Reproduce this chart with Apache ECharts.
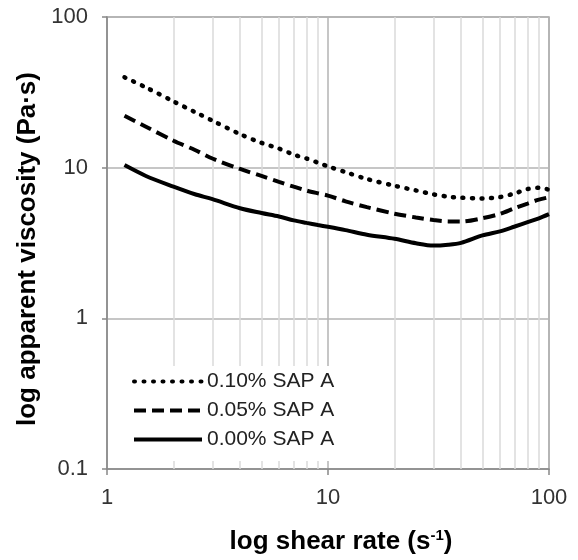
<!DOCTYPE html>
<html>
<head>
<meta charset="utf-8">
<script src="https://cdn.jsdelivr.net/npm/echarts@6/dist/echarts.min.js"></script>
<style>
html,body{margin:0;padding:0;background:#fff;}
#chart{width:578px;height:560px;}
</style>
</head>
<body>
<div id="chart"></div>
<script>
const shearRate = [1.2, 1.5, 2, 2.5, 3, 4, 5, 6, 7, 8, 9, 10, 12, 15, 20, 25, 30, 35, 40, 50, 60, 70, 80, 90, 100];
const sap010 = [39.8, 34.1, 27.5, 23.4, 20.5, 16.7, 14.6, 13.4, 12.2, 11.5, 10.8, 10.2, 9.34, 8.41, 7.58, 7.06, 6.65, 6.42, 6.32, 6.25, 6.38, 6.75, 7.21, 7.35, 7.14];
const sap005 = [22.1, 18.7, 15.1, 13.1, 11.5, 9.8, 8.81, 8.04, 7.48, 7.05, 6.76, 6.53, 5.98, 5.47, 4.95, 4.67, 4.49, 4.40, 4.39, 4.62, 4.93, 5.39, 5.78, 6.14, 6.36];
const sap000 = [10.4, 8.81, 7.48, 6.66, 6.18, 5.38, 5.0, 4.74, 4.47, 4.30, 4.16, 4.05, 3.85, 3.59, 3.37, 3.15, 3.04, 3.08, 3.17, 3.55, 3.78, 4.07, 4.35, 4.61, 4.91];
const seriesNames = ['0.10% SAP A', '0.05% SAP A', '0.00% SAP A'];
const minorGridX = [2, 3, 4, 5, 6, 7, 8, 9, 20, 30, 40, 50, 60, 70, 80, 90];

const pair = (ys) => shearRate.map((x, i) => [x, ys[i]]);
const FONT = 'Liberation Sans, Arial, sans-serif';

const chart = echarts.init(document.getElementById('chart'));
chart.setOption({
  animation: false,
  backgroundColor: '#fff',
  grid: { left: 107, right: 29, top: 17, bottom: 91, show: true, borderColor: '#a6a6a6', borderWidth: 1.5, backgroundColor: 'transparent' },
  xAxis: {
    type: 'log', logBase: 10, min: 1, max: 100,
    name: 'log shear rate (s{sup|-1})',
    nameLocation: 'middle', nameGap: 59,
    nameTextStyle: { fontFamily: FONT, fontSize: 26, fontWeight: 'bold', color: '#000', padding: [0, 0, 0, 26],
      rich: { sup: { fontFamily: FONT, fontSize: 15, fontWeight: 'bold', color: '#000', verticalAlign: 'top', padding: [0, 0, 12, 0] } } },
    axisLine: { show: true, lineStyle: { color: '#888', width: 1.5 } },
    axisTick: { show: true, length: 6, lineStyle: { color: '#888', width: 1.5 } },
    axisLabel: { fontFamily: FONT, fontSize: 22, color: '#333', margin: 18 },
    splitLine: { show: true, lineStyle: { color: '#b3b3b3', width: 1.5 } },
    minorTick: { show: false }, minorSplitLine: { show: false }
  },
  yAxis: {
    type: 'log', logBase: 10, min: 0.1, max: 100,
    name: 'log apparent viscosity (Pa·s)',
    nameLocation: 'middle', nameGap: 62,
    nameTextStyle: { fontFamily: FONT, fontSize: 26, fontWeight: 'bold', color: '#000', padding: [0, 12, 0, 0] },
    axisLine: { show: true, lineStyle: { color: '#888', width: 1.5 } },
    axisTick: { show: true, length: 5, lineStyle: { color: '#888', width: 1.5 } },
    axisLabel: { fontFamily: FONT, fontSize: 22, color: '#333', margin: 19 },
    splitLine: { show: true, lineStyle: { color: '#b3b3b3', width: 1.5 } }
  },
  legend: {
    data: seriesNames,
    z: 20,
    orient: 'vertical', left: 109, top: 366,
    backgroundColor: '#fff',
    padding: [5, 12, 11, 23],
    itemWidth: 68, itemHeight: 14, itemGap: 8,
    textStyle: { fontFamily: FONT, fontSize: 21, color: '#222' },
    lineStyle: { width: 4 },
    itemStyle: { opacity: 0 },
    selectedMode: false
  },
  series: [
    {
      name: 'minor grid', type: 'line', data: [], z: 1, silent: true,
      markLine: {
        z: 1, silent: true, symbol: ['none', 'none'], label: { show: false },
        lineStyle: { type: 'solid', color: '#dadada', width: 1.5 },
        data: minorGridX.map(v => ({ xAxis: v }))
      }
    },
    {
      name: seriesNames[0], type: 'line', data: pair(sap010), symbol: 'none', smooth: 0.3,
      lineStyle: { color: '#000', width: 4.5, type: [1, 8.5], cap: 'round' }, itemStyle: { color: '#000' }
    },
    {
      name: seriesNames[1], type: 'line', data: pair(sap005), symbol: 'none', smooth: 0.3,
      lineStyle: { color: '#000', width: 4, type: [12, 6] }, itemStyle: { color: '#000' }
    },
    {
      name: seriesNames[2], type: 'line', data: pair(sap000), symbol: 'none', smooth: 0.3,
      lineStyle: { color: '#000', width: 4, type: 'solid' }, itemStyle: { color: '#000' }
    }
  ]
});
</script>
</body>
</html>
